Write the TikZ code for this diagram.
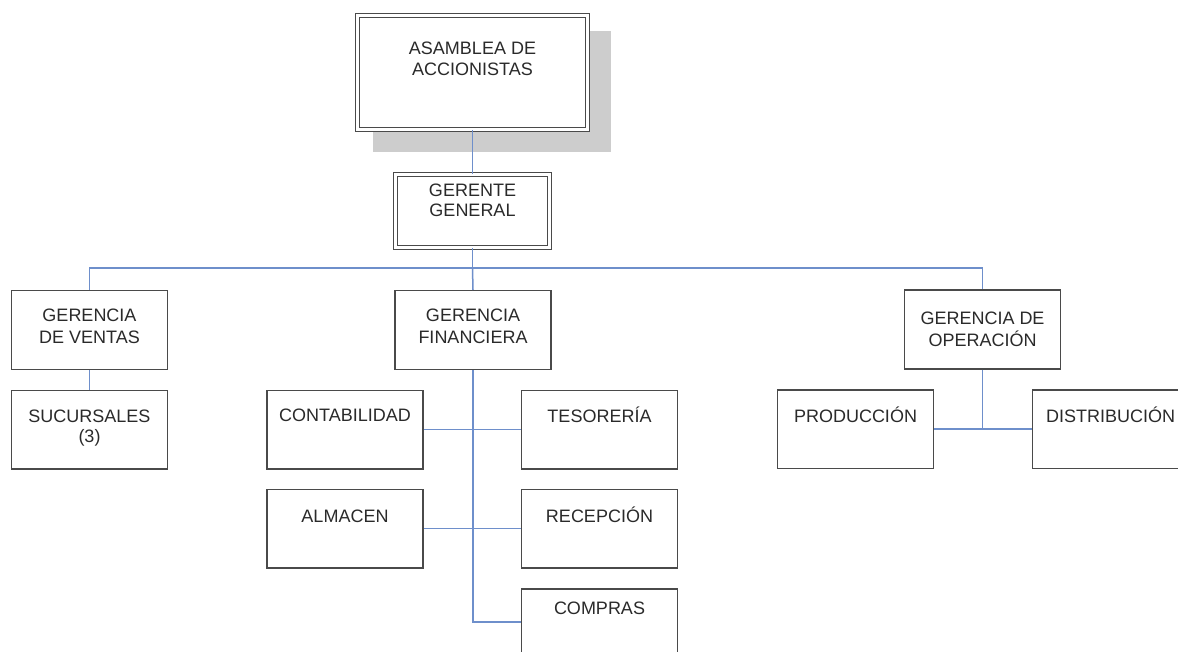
\documentclass[tikz,border=0pt]{standalone}
\usepackage{fontspec}
\setmainfont{Liberation Sans}
\usepackage{tikz}
\usetikzlibrary{backgrounds}
\definecolor{cBox}   {HTML}{4A4A4A}
\definecolor{cLink}  {HTML}{6E8FCB}
\definecolor{cText}  {HTML}{2A2A2A}
\definecolor{cShadow}{HTML}{CDCDCD}

\begin{document}
\begin{tikzpicture}[x=1pt, y=-1pt,
    unit/.style={draw=cBox, fill=white, line width=1.5pt,
                 minimum width=156pt, minimum height=78.5pt, inner sep=0pt},
    head/.style={draw=cBox, fill=white, line width=1.2pt,
                 double=white, double distance=2.4pt, inner sep=0pt},
    txt/.style={anchor=north, align=center, text=cText, inner sep=0pt,
                font=\fontsize{18}{22}\selectfont},
    one/.style={txt, text height=13pt},
    link/.style={draw=cLink, line width=1.5pt}]
  \clip (0,0) rectangle (1178,652);

  \node[head, minimum width=230pt, minimum height=114pt] (asm) at (472.5,72.5) {};
  \node[head, minimum width=154pt, minimum height=73pt]  (gg)  at (472.5,211) {};

  \node[unit] (vta)  at (89.5,330)    {};
  \node[unit] (fin)  at (473,330)     {};
  \node[unit] (ope)  at (982.5,329.5) {};
  \node[unit] (suc)  at (89.5,429.5)  {};
  \node[unit] (cont) at (345,429.5)   {};
  \node[unit] (tes)  at (599.5,429.5) {};
  \node[unit] (alm)  at (345,528.5)   {};
  \node[unit] (rec)  at (599.5,528.5) {};
  \node[unit] (com)  at (599.5,628)   {};
  \node[unit] (prod) at (855.5,429)   {};
  \node[unit] (dis)  at (1110.5,429)  {};

  \begin{scope}[on background layer]
    \fill[white] (0,0) rectangle (1178,652);
    \fill[cShadow] ([shift={(15.6pt,-16.6pt)}]asm.north west)
      rectangle ([shift={(22.4pt,-22.4pt)}]asm.south east);
  \end{scope}

  \node[txt, font=\fontsize{18}{21}\selectfont] (asm-t) at ([yshift=-26.6pt]asm.north) {ASAMBLEA DE\\ACCIONISTAS};
  \node[txt, font=\fontsize{18}{20}\selectfont] (gg-t) at ([yshift=-9.5pt]gg.north) {GERENTE\\GENERAL};
  \node[txt] (vta-t) at ([yshift=-19pt]vta.north) {GERENCIA\\DE VENTAS};
  \node[txt] (fin-t) at ([yshift=-19pt]fin.north) {GERENCIA\\FINANCIERA};
  \node[txt] (ope-t) at ([yshift=-22pt]ope.north) {GERENCIA DE\\OPERACIÓN};
  \node[txt, font=\fontsize{18}{20}\selectfont] (suc-t) at ([yshift=-20pt]suc.north) {SUCURSALES\\(3)};
  \node[one] (cont-t) at ([yshift=-19pt]cont.north) {CONTABILIDAD};
  \node[one] (tes-t)  at ([yshift=-19.5pt]tes.north) {TESORERÍA};
  \node[one] (alm-t)  at ([yshift=-21pt]alm.north) {ALMACEN};
  \node[one] (rec-t)  at ([yshift=-21pt]rec.north) {RECEPCIÓN};
  \node[one] (com-t)  at ([yshift=-13pt]com.north) {COMPRAS};
  \node[one] (prod-t) at ([yshift=-20pt]prod.north) {PRODUCCIÓN};
  \node[one] (dis-t)  at ([yshift=-20pt]dis.north) {DISTRIBUCIÓN};

  \draw[link] (asm.south) -- (gg.north);
  \draw[link] (gg.south) -- ++(0,20) coordinate (bus);
  \draw[link] (vta.north) |- (bus) -| (ope.north);
  \draw[link] (bus) -- (fin.north);
  \draw[link] (vta.south) -- (suc.north);
  \draw[link] (fin.south) |- ([yshift=6pt]com.west);
  \draw[link] (cont.east) -- (tes.west);
  \draw[link] (alm.east) -- (rec.west);
  \draw[link] (ope.south) -- (ope.south |- prod.east);
  \draw[link] (prod.east) -- (dis.west);
\end{tikzpicture}
\end{document}
